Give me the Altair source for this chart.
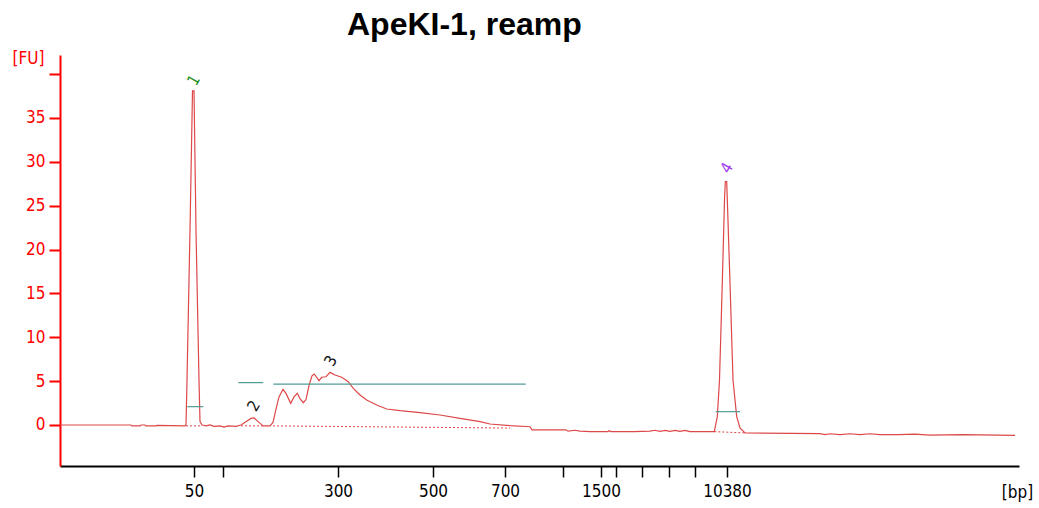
import altair as alt
import pandas as pd

# ---- Electropherogram trace: migration time (s) and fluorescence (FU) ----
T = [20.0, 27.1, 27.2, 28.0, 28.1, 28.5, 28.6, 29.6, 29.7, 32.5,
     32.6, 32.7, 33.0, 33.25, 33.4, 33.6, 33.9, 34.0, 34.2, 34.6,
     35.0, 35.4, 36.0, 36.4, 36.8, 37.6, 38.1, 38.7, 39.1, 39.4,
     39.7, 40.1, 40.3, 41.0, 41.3, 41.6, 41.9, 42.3, 42.6, 43.07,
     43.4, 43.73, 44.0, 44.33, 44.6, 44.9, 45.2, 45.43, 45.9, 46.17,
     46.6, 47.0, 47.5, 48.17, 48.83, 49.33, 50.0, 50.67, 51.67, 52.67,
     54.0, 56.0, 58.0, 60.0, 62.0, 63.0, 65.0, 67.0, 67.2, 70.6,
     70.8, 71.5, 72.0, 73.0, 74.8, 74.9, 75.1, 77.4, 79.0, 79.5,
     80.0, 80.5, 81.0, 81.5, 82.0, 82.5, 83.0, 85.43, 85.73, 85.95,
     86.23, 86.45, 86.53, 86.67, 86.8, 87.0, 87.3, 87.67, 88.0, 88.5,
     96.0, 96.5, 97.0, 98.0, 99.0, 100.0, 101.0, 102.0, 103.8, 105.5,
     107.0, 110.2, 115.5]
FU = [0.0, 0.0, -0.1, -0.1, 0.0, 0.0, -0.1, -0.1, -0.05, -0.1,
      0.0, 5.1, 22.2, 38.1, 38.1, 22.2, 5.1, 0.4, 0.0, -0.1,
      0.0, -0.15, -0.1, -0.25, -0.1, -0.15, 0.0, 0.45, 0.75, 0.8,
      0.5, 0.1, -0.1, -0.1, 0.3, 1.8, 3.2, 4.07, 3.6, 2.47,
      3.2, 3.61, 3.0, 2.54, 2.9, 4.5, 5.6, 5.81, 5.05, 5.44,
      5.5, 6.0, 5.7, 5.44, 4.94, 4.18, 3.42, 2.85, 2.28, 1.82,
      1.63, 1.40, 1.14, 0.76, 0.38, 0.11, -0.08, -0.2, -0.55, -0.55,
      -0.7, -0.6, -0.7, -0.75, -0.75, -0.65, -0.75, -0.75, -0.7, -0.6,
      -0.72, -0.62, -0.72, -0.62, -0.72, -0.62, -0.75, -0.76, 0.95, 5.13,
      16.2, 25.65, 27.74, 27.74, 23.3, 16.2, 5.13, 0.95, -0.34, -0.9,
      -0.98, -1.1, -1.0, -1.1, -1.0, -1.1, -1.0, -1.1, -1.1, -1.05,
      -1.15, -1.1, -1.18]

# ---- dotted peak baselines ----
BASE_SEG = ["p1", "p1", "p2", "p2", "p3", "p3", "p4", "p4"]
BASE_T = [32.6, 34.2, 38.1, 40.3, 41.3, 65.0, 85.43, 88.5]
BASE_FU = [-0.1, -0.1, -0.1, -0.1, -0.1, -0.35, -0.76, -0.9]

# ---- teal peak / region marker lines ----
MARK_T1 = [32.73, 37.83, 41.33, 85.57]
MARK_T2 = [34.33, 40.33, 66.57, 88.0]
MARK_FU = [2.09, 4.83, 4.67, 1.52]

# ---- peak labels ----
PEAK_LABEL = ["1", "2", "3", "4"]
PEAK_T = [33.4, 39.4, 47.1, 86.7]
PEAK_FU = [39.3, 2.17, 7.3, 29.3]
PEAK_COLOR = ["#1f8f1f", "#111111", "#111111", "#a040f0"]

# ---- axes ----
X_TICKS = [33.4, 36.3, 47.8, 57.3, 64.5, 70.3, 74.1, 75.6, 78.2, 80.9, 83.5, 86.7]
X_LABELS = ["50", "", "300", "500", "700", "", "1500", "", "", "", "", "10380"]
Y_TICKS = [0, 5, 10, 15, 20, 25, 30, 35, 40]

FONT = "DejaVu Sans Condensed, DejaVu Sans, sans-serif"
RED = "#ff0000"

trace_df = pd.DataFrame({"t": T, "fu": FU})
base_df = pd.DataFrame({"seg": BASE_SEG, "t": BASE_T, "fu": BASE_FU})
mark_df = pd.DataFrame({"t": MARK_T1, "t2": MARK_T2, "fu": MARK_FU})
peak_df = pd.DataFrame({"label": PEAK_LABEL, "t": PEAK_T, "fu": PEAK_FU, "color": PEAK_COLOR})

x_scale = alt.Scale(domain=[20, 115.9], nice=False, zero=False)
y_scale = alt.Scale(domain=[-4.675, 42.18], nice=False, zero=False)

tick_list = "[" + ",".join(str(v) for v in X_TICKS) + "]"
label_list = "[" + ",".join("'" + s + "'" for s in X_LABELS) + "]"
x_label_expr = f"{label_list}[indexof({tick_list}, datum.value)]"

x_axis = alt.Axis(
    values=X_TICKS, labelExpr=x_label_expr, title="[bp]",
    titleAngle=0, titleX=957, titleY=26, titleAlign="center", titleBaseline="middle",
    titleFontWeight="normal", titleFontSize=17, titleFont=FONT, titleColor="black",
    domainColor="black", domainWidth=2, tickColor="black", tickWidth=1.5, tickSize=11,
    labelFont=FONT, labelFontSize=17, labelColor="black", labelPadding=6,
    labelFlush=False, labelOverlap=False, grid=False,
)
y_axis = alt.Axis(
    values=Y_TICKS, labelExpr="datum.value == 40 ? '' : datum.label", title="[FU]",
    titleAngle=0, titleX=-32, titleY=3, titleAlign="center", titleBaseline="middle",
    titleFontWeight="normal", titleFontSize=17, titleFont=FONT, titleColor=RED,
    domainColor=RED, domainWidth=2, tickColor=RED, tickWidth=2, tickSize=11,
    labelFont=FONT, labelFontSize=17, labelColor=RED, labelPadding=4,
    labelFlush=False, labelOverlap=False, grid=False,
)

trace = alt.Chart(trace_df).mark_line(color="#dd4848", strokeWidth=1.2).encode(
    x=alt.X("t:Q", scale=x_scale, axis=x_axis),
    y=alt.Y("fu:Q", scale=y_scale, axis=y_axis),
)

baselines = alt.Chart(base_df).mark_line(color="#dd4848", strokeWidth=1, strokeDash=[2, 2]).encode(
    x=alt.X("t:Q", scale=x_scale),
    y=alt.Y("fu:Q", scale=y_scale),
    detail="seg:N",
)

markers = alt.Chart(mark_df).mark_rule(color="#4f9c94", strokeWidth=1.2).encode(
    x=alt.X("t:Q", scale=x_scale),
    x2="t2:Q",
    y=alt.Y("fu:Q", scale=y_scale),
)

labels = alt.Chart(peak_df).mark_text(angle=300, fontSize=16, font=FONT).encode(
    x=alt.X("t:Q", scale=x_scale),
    y=alt.Y("fu:Q", scale=y_scale),
    text="label:N",
    color=alt.Color("color:N", scale=None),
)

chart = alt.layer(trace, baselines, markers, labels).properties(
    width=959, height=411,
    autosize=alt.AutoSizeParams(type="none"),
    padding={"left": 60, "top": 55, "right": 20, "bottom": 42},
    background="white",
    title=alt.TitleParams(
        "ApeKI-1, reamp", anchor="start", dx=287, dy=32, fontSize=32,
        font="Liberation Sans", fontWeight="bold", color="black",
        frame="group", baseline="alphabetic", offset=14,
    ),
).configure_view(stroke=None)

chart.save("out.html", embed_options={"renderer": "svg", "actions": False})
